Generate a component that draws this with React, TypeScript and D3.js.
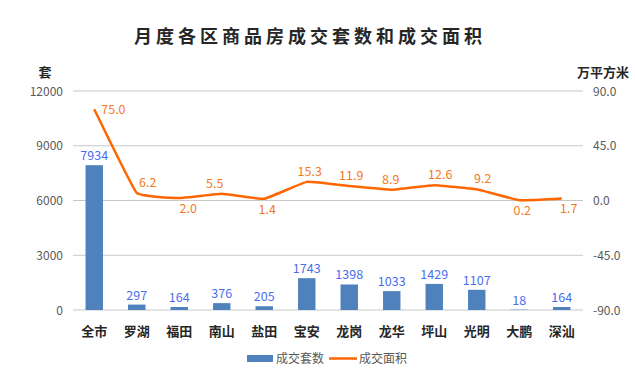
import React from "react";
import * as d3 from "d3";

const categories = ["全市", "罗湖", "福田", "南山", "盐田", "宝安", "龙岗", "龙华", "坪山", "光明", "大鹏", "深汕"];
const units = [7934, 297, 164, 376, 205, 1743, 1398, 1033, 1429, 1107, 18, 164];
const area = [75.0, 6.2, 2.0, 5.5, 1.4, 15.3, 11.9, 8.9, 12.6, 9.2, 0.2, 1.7];
const leftTicks = [0, 3000, 6000, 9000, 12000];
const rightTicks = [-90, -45, 0, 45, 90];
const areaLabelPlacement = ["right", "above", "below", "above", "below", "above", "above", "above", "above", "above", "below", "below"];
const areaLabelNudge = [0, 11, 9, -7, 3, 3, 2, -1, 6, 6, 3, 7];

const W = 635;
const H = 369;
const plot = { left: 73, right: 583, top: 91, bottom: 310 };
const FONT = "'Noto Sans CJK SC', 'Noto Sans', sans-serif";
const BAR = "#4f81bd";
const LINE = "#ff6600";
const BAR_LABEL = "#4a6ef0";
const LINE_LABEL = "#f47a22";
const AXIS_TEXT = "#595959";
const GRID = "#c8c8c8";

export default function App() {
  const x = d3.scaleBand<string>().domain(categories).range([plot.left, plot.right]).paddingInner(0.59).paddingOuter(0.295);
  const xc = (c: string) => (x(c) as number) + x.bandwidth() / 2;
  const yL = d3.scaleLinear().domain([0, 12000]).range([plot.bottom, plot.top]);
  const yR = d3.scaleLinear().domain([-90, 90]).range([plot.bottom, plot.top]);
  const line = d3
    .line<number>()
    .x((_, i) => xc(categories[i]))
    .y((d) => yR(d))
    .curve(d3.curveCardinal.tension(0.75));

  return (
    <svg width={W} height={H} style={{ position: "absolute", left: 0, top: 0, background: "#fff" }} fontFamily={FONT}>
      <rect x={0} y={0} width={W} height={H} fill="#fff" />
      <text x={310} y={43} textAnchor="middle" fontSize={18} fontWeight={700} letterSpacing={4} fill="#262626">
        月度各区商品房成交套数和成交面积
      </text>
      <text x={45} y={77} textAnchor="middle" fontSize={13} fontWeight={700} fill="#262626">套</text>
      <text x={603} y={77} textAnchor="middle" fontSize={13} fontWeight={700} fill="#262626">万平方米</text>

      {leftTicks.map((t) => (
        <g key={"l" + t}>
          <line x1={plot.left} x2={plot.right} y1={yL(t)} y2={yL(t)} stroke={GRID} strokeWidth={1} />
          <text x={63} y={yL(t) + 4.5} textAnchor="end" fontSize={12} fill={AXIS_TEXT}>{t}</text>
        </g>
      ))}
      {rightTicks.map((t) => (
        <text key={"r" + t} x={593} y={yR(t) + 4.5} textAnchor="start" fontSize={12} fill={AXIS_TEXT}>
          {t.toFixed(1)}
        </text>
      ))}

      {categories.map((c, i) => (
        <g key={c}>
          <rect x={x(c)} y={yL(units[i])} width={x.bandwidth()} height={plot.bottom - yL(units[i])} fill={BAR} />
          <text x={xc(c)} y={yL(units[i]) - 5} textAnchor="middle" fontSize={12.5} fill={BAR_LABEL}>{units[i]}</text>
          <text x={xc(c)} y={336} textAnchor="middle" fontSize={13} fontWeight={700} fill="#262626">{c}</text>
        </g>
      ))}

      <path d={line(area) || ""} fill="none" stroke={LINE} strokeWidth={2.5} strokeLinejoin="round" />
      {area.map((v, i) => {
        const px = xc(categories[i]);
        const py = yR(v);
        const p = areaLabelPlacement[i];
        const lx = p === "right" ? px + 7 : px + areaLabelNudge[i];
        const ly = p === "right" ? py + 4.5 : p === "above" ? py - 6 : py + 15;
        return (
          <text key={"a" + i} x={lx} y={ly} textAnchor={p === "right" ? "start" : "middle"} fontSize={12.5} fill={LINE_LABEL}>
            {v.toFixed(1)}
          </text>
        );
      })}

      <rect x={247} y={355} width={26} height={7} fill={BAR} />
      <text x={276} y={362.5} fontSize={12} fill={AXIS_TEXT}>成交套数</text>
      <line x1={329} x2={357} y1={358.5} y2={358.5} stroke={LINE} strokeWidth={2.5} />
      <text x={359} y={362.5} fontSize={12} fill={AXIS_TEXT}>成交面积</text>
    </svg>
  );
}
